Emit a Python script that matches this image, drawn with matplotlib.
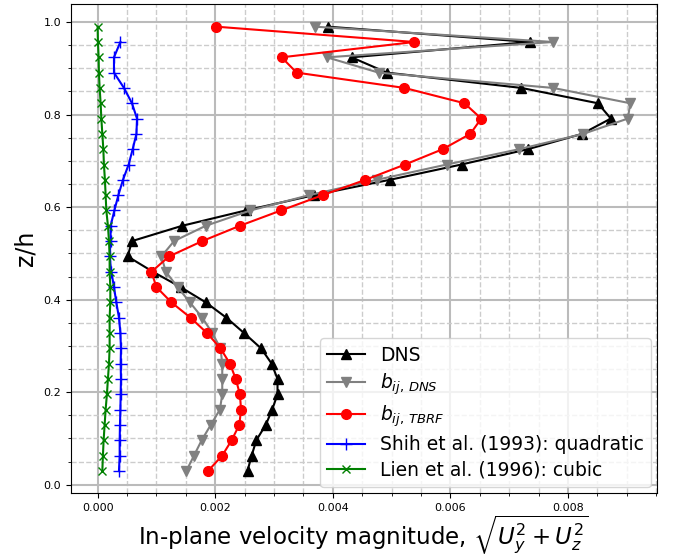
import matplotlib
matplotlib.use("Agg")
import matplotlib.pyplot as plt
from matplotlib.ticker import MultipleLocator

z = [0.99, 0.9569, 0.9238, 0.8907, 0.8576, 0.8245, 0.7914, 0.7583, 0.7252, 0.6921,
     0.659, 0.6259, 0.5928, 0.5597, 0.5266, 0.4934, 0.4603, 0.4272, 0.3941, 0.361,
     0.3279, 0.2948, 0.2617, 0.2286, 0.1955, 0.1624, 0.1293, 0.0962, 0.0631, 0.03]

dns = [3.92, 7.35, 4.32, 4.92, 7.21, 8.51, 8.73, 8.24, 7.32, 6.19,
       4.97, 3.68, 2.52, 1.44, 0.585, 0.51, 0.94, 1.41, 1.84, 2.19,
       2.49, 2.78, 2.96, 3.06, 3.06, 2.97, 2.86, 2.70, 2.62, 2.55]

bij_dns = [3.70, 7.75, 3.90, 4.78, 7.75, 9.06, 9.02, 8.26, 7.17, 5.94,
           4.75, 3.60, 2.60, 1.84, 1.30, 1.085, 1.16, 1.36, 1.57, 1.78,
           1.95, 2.09, 2.12, 2.12, 2.12, 2.08, 1.925, 1.77, 1.64, 1.51]

bij_tbrf = [2.02, 5.39, 3.13, 3.385, 5.22, 6.24, 6.525, 6.34, 5.87, 5.23,
            4.555, 3.83, 3.12, 2.42, 1.78, 1.215, 0.915, 1.00, 1.255, 1.58,
            1.86, 2.09, 2.25, 2.35, 2.42, 2.44, 2.41, 2.28, 2.12, 1.88]

shih = [0.387, 0.278, 0.278, 0.448, 0.584, 0.67, 0.66, 0.596, 0.528,
        0.431, 0.353, 0.285, 0.221, 0.221, 0.204, 0.233, 0.278, 0.318, 0.363,
        0.387, 0.397, 0.392, 0.397, 0.392, 0.387, 0.38, 0.375, 0.375, 0.363]
z_shih = z[1:]

lien = [0.0, 0.005, 0.017, 0.022, 0.034, 0.051, 0.063, 0.080, 0.097, 0.107,
        0.124, 0.136, 0.148, 0.175, 0.193, 0.204, 0.204, 0.216, 0.216, 0.204,
        0.204, 0.204, 0.193, 0.175, 0.158, 0.136, 0.119, 0.102, 0.09, 0.08]

scale = 1e-3

fig = plt.figure(figsize=(6.73, 5.59), dpi=100)
ax = fig.add_axes([0.1055, 0.118, 0.8705, 0.874])

ax.plot([v * scale for v in dns], z, color='black', marker='^', ms=7, lw=1.5, label='DNS')
ax.plot([v * scale for v in bij_dns], z, color='grey', marker='v', ms=7, lw=1.5, label=r'$b_{ij,\,DNS}$')
ax.plot([v * scale for v in bij_tbrf], z, color='red', marker='o', ms=7, lw=1.5, label=r'$b_{ij,\,TBRF}$')
ax.plot([v * scale for v in shih], z_shih, color='blue', marker='+', ms=8, lw=1.5, label='Shih et al. (1993): quadratic')
ax.plot([v * scale for v in lien], z, color='green', marker='x', ms=6, lw=1.5, label='Lien et al. (1996): cubic')

ax.xaxis.set_major_locator(MultipleLocator(0.002))
ax.xaxis.set_minor_locator(MultipleLocator(0.0005))
ax.yaxis.set_major_locator(MultipleLocator(0.2))
ax.yaxis.set_minor_locator(MultipleLocator(0.05))
ax.grid(which='major', color='#bbbbbb', linestyle='-', linewidth=1.5)
ax.grid(which='minor', color='#cccccc', linestyle='--', linewidth=1.0)
ax.set_axisbelow(True)
ax.tick_params(labelsize=8)

ax.set_ylabel('z/h', fontsize=17)
ax.set_xlabel(r'In-plane velocity magnitude, $\sqrt{U_y^2 + U_z^2}$', fontsize=16.5, labelpad=1)
ax.legend(loc='lower right', fontsize=13.5, borderaxespad=0.3, labelspacing=0.35)

fig.savefig('out.png', dpi=100)
